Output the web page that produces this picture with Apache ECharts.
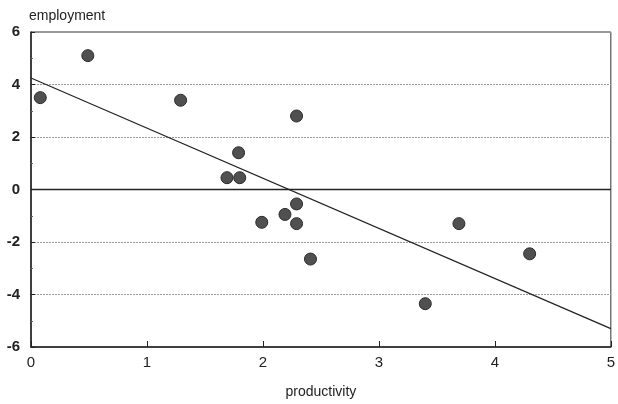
<!DOCTYPE html>
<html>
<head>
<meta charset="utf-8">
<script src="https://cdn.jsdelivr.net/npm/echarts@6/dist/echarts.min.js"></script>
<style>
  html, body { margin: 0; padding: 0; background: #fff; }
  #chart { width: 618px; height: 404px; }
</style>
</head>
<body>
<div id="chart"></div>
<script>
// productivity vs employment
var productivity = [0.08, 0.49, 1.29, 2.29, 1.79, 1.69, 1.80, 2.29, 2.19, 2.29, 1.99, 2.41, 3.40, 3.69, 4.30];
var employment = [3.5, 5.1, 3.4, 2.8, 1.4, 0.45, 0.45, -0.55, -0.95, -1.3, -1.25, -2.65, -4.35, -1.3, -2.45];

// fitted line end points
var fitX = [0, 5];
var fitY = [4.25, -5.3];

var chart = echarts.init(document.getElementById('chart'));

var points = productivity.map(function (x, i) { return [x, employment[i]]; });
var fit = fitX.map(function (x, i) { return [x, fitY[i]]; });

var font = 'Liberation Sans, Arial, sans-serif';

chart.setOption({
  animation: false,
  backgroundColor: '#fff',
  grid: { left: 31, right: 5, top: 32, bottom: 55, show: true, borderColor: '#333', borderWidth: 1 },
  xAxis: {
    type: 'value',
    min: 0, max: 5, interval: 1,
    name: 'productivity',
    nameLocation: 'middle',
    nameGap: 38,
    nameTextStyle: { color: '#222', fontFamily: font, fontSize: 14 },
    axisLine: { show: true, onZero: false, lineStyle: { color: '#222', width: 1.5 } },
    axisTick: { show: true, inside: true, length: 6, lineStyle: { color: '#222' } },
    axisLabel: { color: '#222', fontFamily: font, fontSize: 15, margin: 8 },
    splitLine: { show: false }
  },
  yAxis: {
    type: 'value',
    min: -6, max: 6, interval: 2,
    name: 'employment',
    nameLocation: 'end',
    nameGap: 9,
    nameTextStyle: { color: '#222', fontFamily: font, fontSize: 14, align: 'left', padding: [0, 0, 0, -2] },
    axisLine: { show: true, lineStyle: { color: '#222', width: 1.5 } },
    axisTick: { show: true, inside: true, length: 4, lineStyle: { color: '#222' } },
    minorTick: { show: true, splitNumber: 2, length: 2, lineStyle: { color: '#666' } },
    axisLabel: { color: '#222', fontFamily: font, fontSize: 15, fontWeight: 'bold', margin: 11 },
    splitLine: { show: true, lineStyle: { color: '#999', type: [2, 1], width: 1 } }
  },
  series: [
    {
      type: 'line',
      data: [[0, 0], [5, 0]],
      symbol: 'none',
      silent: true,
      lineStyle: { color: '#222', width: 1.5 }
    },
    {
      type: 'line',
      data: fit,
      symbol: 'none',
      lineStyle: { color: '#222', width: 1.2 }
    },
    {
      type: 'scatter',
      data: points,
      symbolSize: 12,
      itemStyle: { color: '#505050', borderColor: '#2a2a2a', borderWidth: 1, opacity: 1 }
    }
  ]
});
</script>
</body>
</html>
